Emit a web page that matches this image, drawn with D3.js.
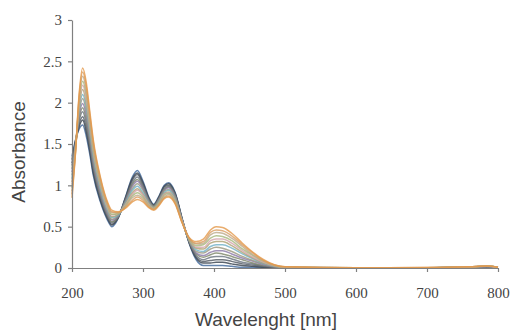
<!DOCTYPE html>
<html><head><meta charset="utf-8">
<script src="https://cdn.jsdelivr.net/npm/d3@7"></script>
<style>body{margin:0;background:#fff}svg{display:block}
.tick text{font-family:"Liberation Serif","DejaVu Serif",serif !important;font-size:15px}</style>
</head><body>
<svg id="c" width="511" height="330"></svg>
<script>
const wavelengths = [200,205,210,215,220,225,230,240,250,256,265,275,285,292,300,308,315,322,330,336,345,355,365,375,385,395,403,412,425,440,455,470,485,500,600,700,760,785,800];
const spectra = [
 [1.35,1.55,1.68,1.73,1.60,1.38,1.12,0.80,0.58,0.50,0.60,0.85,1.10,1.18,1.05,0.86,0.77,0.86,1.00,1.03,0.92,0.60,0.30,0.10,0.03,0.03,0.03,0.03,0.02,0.01,0.01,0.00,0.00,0.00,0.00,0.00,0.010,0.015,0.005],
 [1.31,1.54,1.71,1.79,1.65,1.42,1.15,0.82,0.60,0.52,0.61,0.84,1.08,1.15,1.03,0.85,0.76,0.85,0.99,1.02,0.91,0.60,0.31,0.12,0.06,0.06,0.07,0.07,0.05,0.03,0.02,0.01,0.003,0.001,0.00,0.00,0.010,0.016,0.006],
 [1.27,1.53,1.74,1.83,1.70,1.46,1.18,0.85,0.61,0.53,0.61,0.83,1.06,1.13,1.01,0.84,0.76,0.84,0.98,1.00,0.90,0.59,0.31,0.13,0.08,0.09,0.10,0.10,0.08,0.05,0.035,0.015,0.006,0.002,0.00,0.001,0.011,0.017,0.006],
 [1.24,1.52,1.78,1.89,1.75,1.50,1.22,0.87,0.63,0.55,0.62,0.82,1.03,1.10,0.99,0.83,0.75,0.83,0.96,0.99,0.89,0.59,0.32,0.15,0.10,0.13,0.14,0.14,0.11,0.07,0.05,0.02,0.010,0.003,0.00,0.001,0.011,0.017,0.006],
 [1.20,1.50,1.81,1.94,1.80,1.54,1.25,0.89,0.65,0.56,0.62,0.81,1.01,1.07,0.97,0.82,0.75,0.83,0.95,0.98,0.88,0.58,0.32,0.17,0.13,0.16,0.18,0.17,0.14,0.10,0.06,0.03,0.012,0.004,0.00,0.002,0.012,0.018,0.007],
 [1.16,1.49,1.84,1.99,1.85,1.58,1.28,0.91,0.66,0.58,0.63,0.80,0.99,1.05,0.96,0.81,0.74,0.82,0.94,0.97,0.87,0.58,0.33,0.18,0.15,0.19,0.21,0.21,0.17,0.12,0.08,0.04,0.015,0.006,0.001,0.002,0.012,0.019,0.007],
 [1.12,1.48,1.87,2.05,1.90,1.62,1.32,0.94,0.68,0.59,0.64,0.79,0.96,1.02,0.94,0.80,0.74,0.81,0.93,0.95,0.86,0.58,0.33,0.20,0.18,0.23,0.25,0.24,0.20,0.14,0.09,0.05,0.018,0.007,0.001,0.002,0.012,0.020,0.007],
 [1.08,1.47,1.91,2.10,1.95,1.66,1.35,0.96,0.70,0.61,0.64,0.78,0.94,0.99,0.91,0.79,0.73,0.80,0.91,0.94,0.84,0.57,0.34,0.22,0.20,0.26,0.28,0.28,0.24,0.17,0.11,0.055,0.022,0.008,0.001,0.003,0.013,0.020,0.008],
 [1.04,1.46,1.94,2.16,2.00,1.70,1.39,0.99,0.72,0.62,0.65,0.77,0.91,0.96,0.89,0.78,0.73,0.79,0.90,0.92,0.83,0.57,0.34,0.24,0.23,0.30,0.32,0.32,0.27,0.19,0.12,0.06,0.025,0.009,0.002,0.003,0.013,0.021,0.008],
 [1.01,1.45,1.97,2.21,2.05,1.74,1.42,1.01,0.73,0.64,0.66,0.76,0.89,0.94,0.88,0.77,0.72,0.78,0.89,0.91,0.82,0.57,0.35,0.25,0.25,0.33,0.35,0.35,0.30,0.21,0.13,0.07,0.028,0.010,0.002,0.003,0.013,0.022,0.008],
 [0.97,1.43,2.00,2.26,2.10,1.78,1.45,1.03,0.75,0.65,0.66,0.75,0.87,0.91,0.86,0.76,0.72,0.78,0.88,0.90,0.81,0.56,0.35,0.27,0.28,0.36,0.39,0.38,0.33,0.23,0.15,0.08,0.031,0.012,0.002,0.004,0.014,0.023,0.009],
 [0.93,1.42,2.04,2.32,2.15,1.82,1.49,1.06,0.77,0.67,0.67,0.74,0.85,0.88,0.84,0.75,0.71,0.77,0.86,0.89,0.80,0.56,0.36,0.29,0.30,0.40,0.43,0.42,0.36,0.26,0.16,0.085,0.034,0.013,0.003,0.004,0.014,0.023,0.009],
 [0.89,1.41,2.07,2.37,2.20,1.86,1.52,1.08,0.78,0.68,0.67,0.73,0.82,0.86,0.82,0.74,0.71,0.76,0.85,0.87,0.79,0.55,0.36,0.30,0.32,0.43,0.46,0.45,0.39,0.28,0.18,0.09,0.037,0.014,0.003,0.005,0.015,0.024,0.010],
 [0.85,1.40,2.10,2.42,2.25,1.90,1.55,1.10,0.80,0.70,0.68,0.72,0.80,0.83,0.80,0.73,0.70,0.75,0.84,0.86,0.78,0.55,0.37,0.32,0.35,0.46,0.50,0.49,0.42,0.30,0.19,0.10,0.040,0.015,0.003,0.005,0.015,0.025,0.010]
];
const seriesColors = ["#3d6598","#343e4a","#4f5660","#66707c","#7c8468","#8a78a6","#98967e","#6fb0c6","#aea070","#d2a2aa","#a6b67a","#bba98a","#d99e62","#e3984a"];
const xTicks = [200,300,400,500,600,700,800];
const yTicks = [0,0.5,1,1.5,2,2.5,3];

const svg = d3.select("#c");
const x = d3.scaleLinear().domain([200,800]).range([72,498]);
const y = d3.scaleLinear().domain([0,3]).range([268,20]);

const line = d3.line().x((d,i)=>x(wavelengths[i])).y(d=>y(d)).curve(d3.curveMonotoneX);
svg.append("g").selectAll("path").data(spectra).join("path")
  .attr("d", line).attr("fill","none")
  .attr("stroke",(d,i)=>seriesColors[i]).attr("stroke-width",1.5).attr("stroke-opacity",0.8);

const yAxis = svg.append("g").attr("transform","translate(72,0)")
  .call(d3.axisLeft(y).tickValues(yTicks).tickFormat(d3.format("")).tickSize(4).tickSizeOuter(0).tickPadding(6));
const xAxis = svg.append("g").attr("transform","translate(0,268)")
  .call(d3.axisBottom(x).tickValues(xTicks).tickSize(4).tickSizeOuter(0));
[yAxis,xAxis].forEach(a=>{
  a.attr("font-family",null).attr("font-size",null);
  a.selectAll("path,line").attr("stroke","#808080").attr("stroke-width",1.2);
  a.selectAll("text").attr("fill","#444");
});
xAxis.selectAll("text").attr("dy","0.35em").attr("y",25);

svg.append("text").attr("x",266).attr("y",326).attr("text-anchor","middle")
  .style("font-family","'Liberation Sans',Arial,sans-serif").style("font-size","19px").attr("fill","#444")
  .text("Wavelenght [nm]");
svg.append("text").attr("transform","translate(25,152) rotate(-90)").attr("text-anchor","middle")
  .style("font-family","'Liberation Sans',Arial,sans-serif").style("font-size","19px").attr("fill","#444")
  .text("Absorbance");
</script>
</body></html>
